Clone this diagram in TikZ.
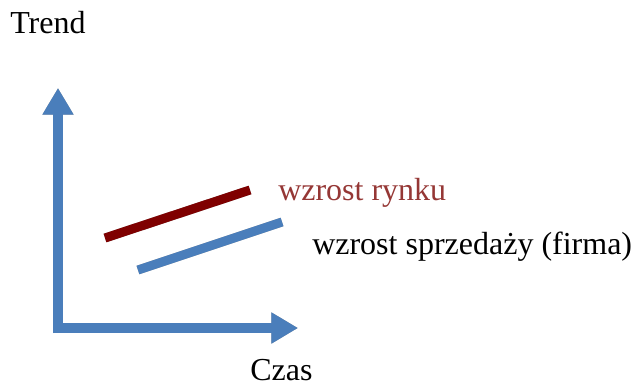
\documentclass[tikz,border=0pt]{standalone}
\usepackage{fontspec}
\setmainfont{Liberation Serif}
\usetikzlibrary{arrows.meta}

\definecolor{axisblue}{HTML}{4A7EBB}
\definecolor{marketred}{HTML}{7F0000}
\definecolor{labelred}{HTML}{953735}

\begin{document}
\begin{tikzpicture}[x=0.75pt,y=-0.75pt,
		axis_style/.style={draw=axisblue,line width=7.5pt,-{Triangle[length=20pt,width=22pt]}},
		shadow_style/.style={draw=black!40,line width=7.5pt,-{Triangle[length=20pt,width=22pt]}},
		trend_style/.style={line width=6.75pt},
		label_style/.style={font=\fontsize{24}{28}\selectfont,inner sep=0pt}]

		\useasboundingbox (0,0) rectangle (632,386);

		% axes
		\coordinate (o) at (58,328);
		\coordinate (ytip) at (58,88);
		\coordinate (xtip) at (298,328);
		\coordinate (ybase) at (58,333);
		\coordinate (xbase) at (53,328);

		% trend lines
		\coordinate (r0) at (105,238);
		\coordinate (r1) at (250,190);
		\coordinate (b0) at (138,270);
		\coordinate (b1) at (282,222);

		% shadows
		\begin{scope}[shift={(3,3)}]
			\draw[shadow_style] (ybase) -- (ytip);
			\draw[shadow_style] (xbase) -- (xtip);
			\draw[trend_style,draw=black!40] (r0) -- (r1);
			\draw[trend_style,draw=black!40] (b0) -- (b1);
		\end{scope}

		\draw[axis_style] (ybase) -- (ytip);
		\draw[axis_style] (xbase) -- (xtip);
		\draw[trend_style,draw=marketred] (r0) -- (r1);
		\draw[trend_style,draw=axisblue] (b0) -- (b1);

		% labels
		\node[label_style,anchor=base west] (trend) at (10,33) {Trend};
		\node[label_style,anchor=base west] (czas) at (250,380) {Czas};
		\node[label_style,anchor=base west,text=labelred] (rynek) at (278,200) {wzrost rynku};
		\node[label_style,anchor=base west] (firma) at (312,254) {wzrost sprzedaży (firma)};

		\end{tikzpicture}
\end{document}
